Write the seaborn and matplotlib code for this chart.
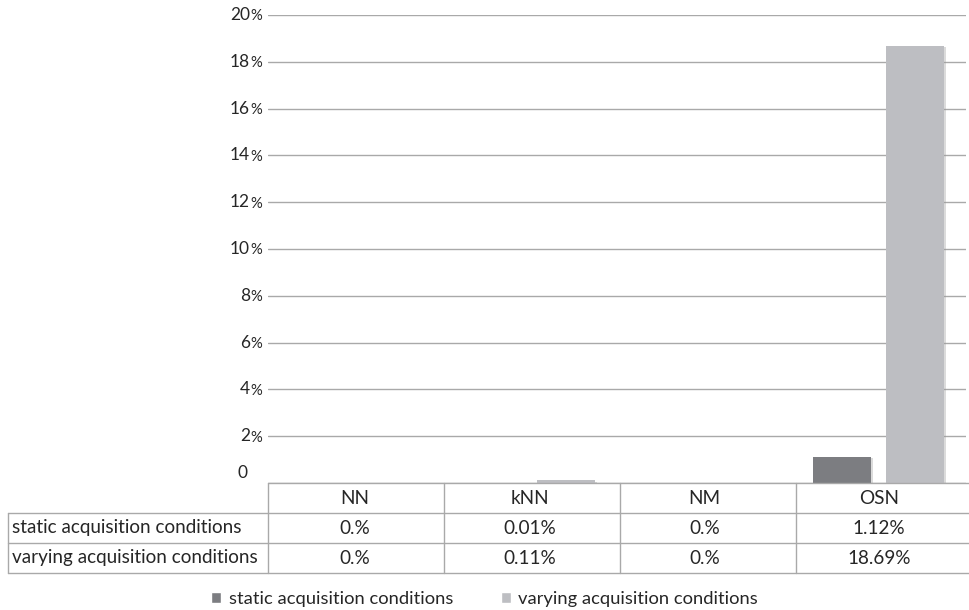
import matplotlib
matplotlib.use("Agg")
import matplotlib.pyplot as plt
import matplotlib.patheffects as pe
from matplotlib.lines import Line2D
import pandas as pd
import seaborn as sns

# Error rates per method and acquisition setting (percent)
methods = ["NN", "kNN", "NM", "OSN"]
series_names = ["static acquisition conditions", "varying acquisition conditions"]
static_vals = [0.0, 0.01, 0.0, 1.12]
varying_vals = [0.0, 0.11, 0.0, 18.69]
static_labels = ["0.%", "0.01%", "0.%", "1.12%"]
varying_labels = ["0.%", "0.11%", "0.%", "18.69%"]
y_ticks = [0, 2, 4, 6, 8, 10, 12, 14, 16, 18, 20]

df = pd.DataFrame({
    "method": methods * 2,
    "condition": [series_names[0]] * 4 + [series_names[1]] * 4,
    "value": static_vals + varying_vals,
})

W, H = 969, 610
sns.set_theme(style="white")
plt.rcParams["font.family"] = ["Lato", "DejaVu Sans"]
text_color = "#262626"
line_color = "#a9a9a9"

fig = plt.figure(figsize=(W / 100, H / 100), dpi=100)

# plot area in pixel coordinates
px_left, px_right, px_top, px_bottom = 268, 966, 15, 483
ax = fig.add_axes([px_left / W, 1 - px_bottom / H,
                   (px_right - px_left) / W, (px_bottom - px_top) / H])

palette = ["#7c7d81", "#bdbec2"]
sns.barplot(data=df, x="method", y="value", hue="condition", order=methods,
            hue_order=series_names, palette=palette, width=0.84, gap=0.21,
            saturation=1, ax=ax, legend=True)
for bar in ax.patches:
    bar.set_edgecolor("none")
    bar.set_path_effects([pe.SimplePatchShadow(offset=(1.2, -1.0), shadow_rgbFace="#9a9a9a", alpha=0.35),
                          pe.Normal()])

ax.set_xlim(-0.5, 3.5)
ax.set_ylim(0, 20)
ax.set_yticks(y_ticks)
ax.set_yticklabels([])
ax.set_xticks([])
ax.set_xlabel("")
ax.set_ylabel("")
ax.grid(axis="y", color=line_color, linewidth=1.0)
ax.set_axisbelow(True)
for s in ax.spines.values():
    s.set_visible(False)
ax.tick_params(left=False, bottom=False)

def fig_xy(x_px, y_px):
    return x_px / W, 1 - y_px / H

# y tick labels: number with a smaller percent sign
tick_fs = 12.5
for t in y_ticks:
    y_px = px_bottom - t * (px_bottom - px_top) / 20
    if t == 0:
        fig.text(*fig_xy(248, y_px - 10), "0", ha="right", va="center",
                 fontsize=tick_fs, color=text_color)
    else:
        fig.text(*fig_xy(250, y_px), str(t), ha="right", va="center",
                 fontsize=tick_fs, color=text_color)
        fig.text(*fig_xy(250.5, y_px + 1.5), "%", ha="left", va="center",
                 fontsize=tick_fs * 0.85, color=text_color)

# data table under the plot
rows_px = [483, 513, 543, 573]
label_left = 8
col_edges = [268, 444, 620, 796]

def hline(y, x0, x1):
    fig.add_artist(Line2D([x0 / W, x1 / W], [1 - y / H, 1 - y / H],
                          color=line_color, linewidth=1.0))

def vline(x, y0, y1):
    fig.add_artist(Line2D([x / W, x / W], [1 - y0 / H, 1 - y1 / H],
                          color=line_color, linewidth=1.0))

hline(rows_px[0], col_edges[0], W)
for y in rows_px[1:]:
    hline(y, label_left, W)
vline(label_left, rows_px[1], rows_px[3])
for x in col_edges:
    vline(x, rows_px[0], rows_px[3])

table_fs = 13.6
col_centers = [ax.transData.transform((i, 0))[0] / fig.dpi * 100 for i in range(len(methods))]
row_mid = [(rows_px[i] + rows_px[i + 1]) / 2 for i in range(3)]
for cx, name, s_lab, v_lab in zip(col_centers, methods, static_labels, varying_labels):
    fig.text(cx / W, 1 - row_mid[0] / H, name, ha="center", va="center",
             fontsize=table_fs, color=text_color)
    fig.text(cx / W, 1 - row_mid[1] / H, s_lab, ha="center", va="center",
             fontsize=table_fs, color=text_color)
    fig.text(cx / W, 1 - row_mid[2] / H, v_lab, ha="center", va="center",
             fontsize=table_fs, color=text_color)
for i, name in enumerate(series_names):
    fig.text(12 / W, 1 - row_mid[i + 1] / H, name, ha="left", va="center",
             fontsize=table_fs, color=text_color)

# legend below the table
sns.move_legend(ax, "center", bbox_to_anchor=(0.5, 1 - 599 / H),
                bbox_transform=fig.transFigure, ncol=2, frameon=False,
                title=None, fontsize=13.2, handlelength=0.55, handleheight=0.55,
                handletextpad=0.4, columnspacing=2.6)
for txt in ax.get_legend().get_texts():
    txt.set_color(text_color)

fig.savefig("out.png", dpi=100)
